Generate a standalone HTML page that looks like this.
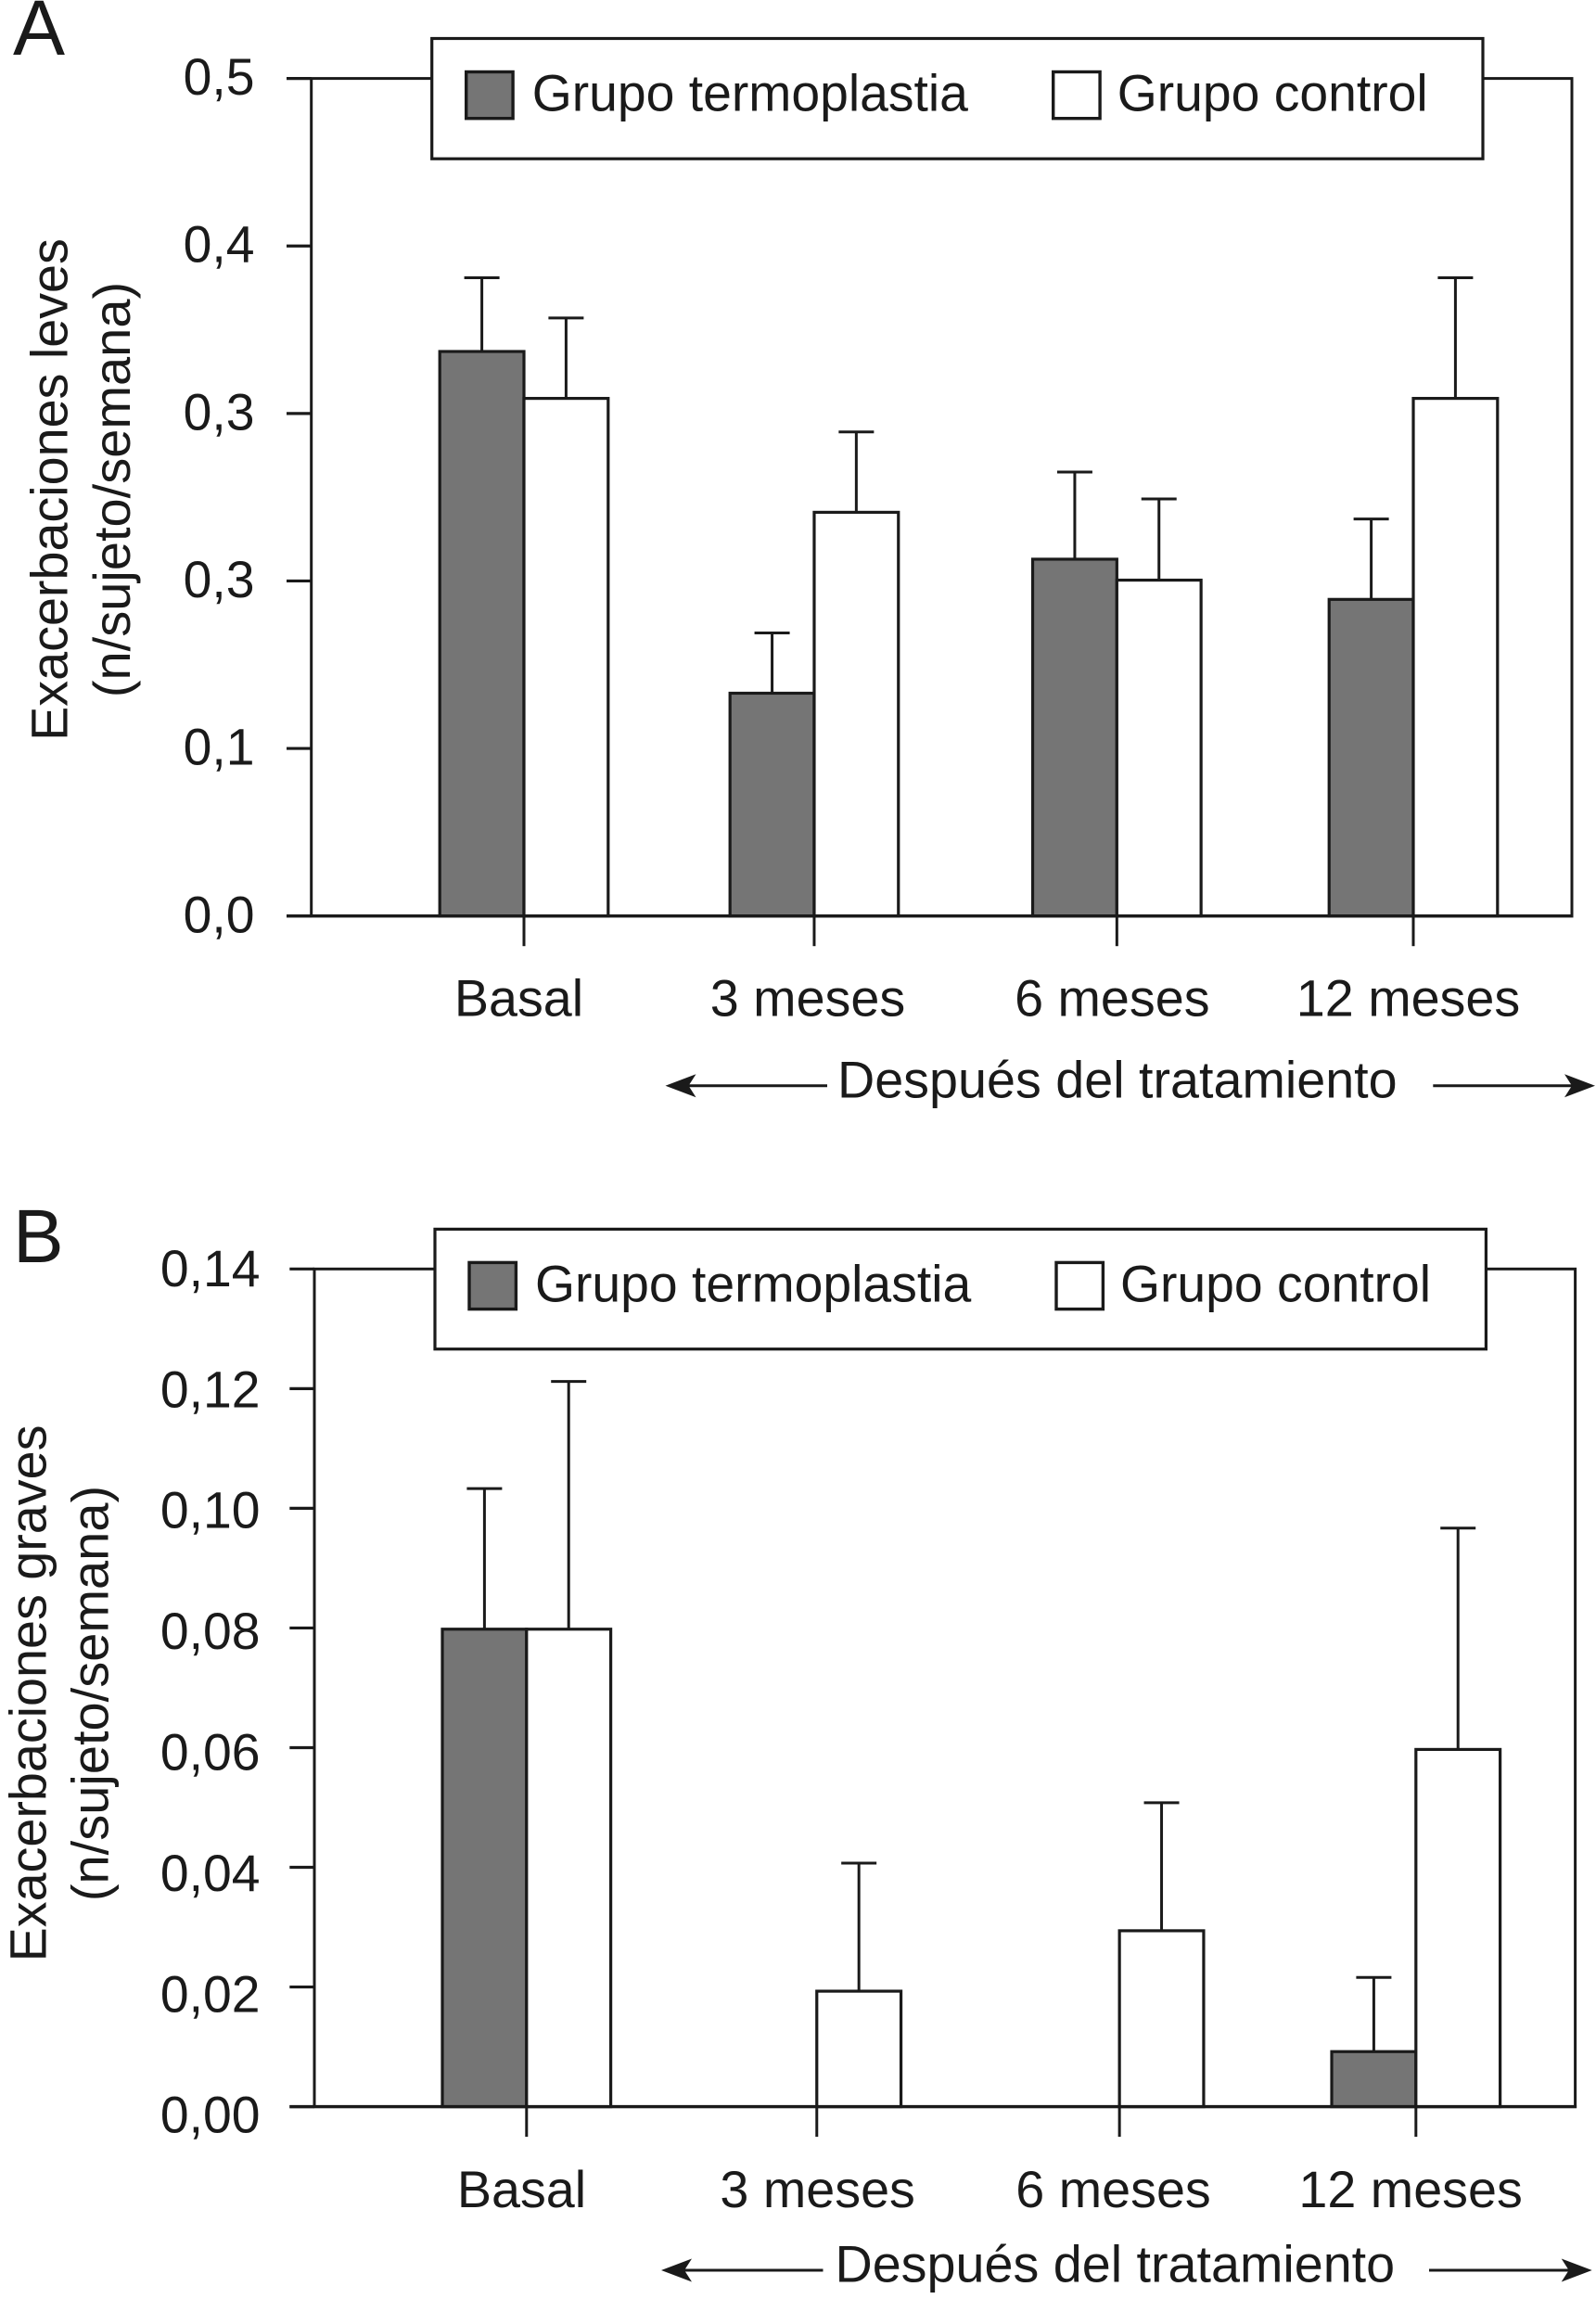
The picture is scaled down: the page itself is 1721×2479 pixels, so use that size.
<!DOCTYPE html>
<html lang="es">
<head>
<meta charset="utf-8">
<title>Exacerbaciones leves y graves</title>
<style>
html,body{margin:0;padding:0;background:#fff;}
svg{display:block;}
text{font-family:"Liberation Sans",Arial,sans-serif;fill:#1a1a1a;font-size:55.7px;}
</style>
</head>
<body>
<svg id="figure" xmlns="http://www.w3.org/2000/svg" width="1721" height="2479" viewBox="0 0 1721 2479">
<rect x="0" y="0" width="1721" height="2479" fill="#fff"/>
<g id="panel-a">
  <text x="14" y="59" style="font-size:84px">A</text>
  <text transform="translate(72.4 528) rotate(-90)" text-anchor="middle">Exacerbaciones leves</text>
  <text transform="translate(140 528) rotate(-90)" text-anchor="middle" style="font-size:56px">(n/sujeto/semana)</text>
</g>
<g id="panel-b">
  <text x="14" y="1361" style="font-size:82px">B</text>
  <text transform="translate(49.4 1826) rotate(-90)" text-anchor="middle">Exacerbaciones graves</text>
  <text transform="translate(116.3 1826) rotate(-90)" text-anchor="middle" style="font-size:56px">(n/sujeto/semana)</text>
</g>
</svg>
<script>
// ---- chart data ----
const categories = ["Basal", "3 meses", "6 meses", "12 meses"];

const ticksA = [0, 0.1, 0.2, 0.3, 0.4, 0.5];
const tickLabelsA = ["0,0", "0,1", "0,3", "0,3", "0,4", "0,5"];
const termoplastiaA = [0.337, 0.133, 0.213, 0.189];
const termoplastiaTopA = [0.381, 0.169, 0.265, 0.237];
const controlA = [0.309, 0.241, 0.2005, 0.309];
const controlTopA = [0.357, 0.289, 0.249, 0.381];

const ticksB = [0, 0.02, 0.04, 0.06, 0.08, 0.10, 0.12, 0.14];
const tickLabelsB = ["0,00", "0,02", "0,04", "0,06", "0,08", "0,10", "0,12", "0,14"];
const termoplastiaB = [0.0798, 0, 0, 0.0092];
const termoplastiaTopB = [0.1033, 0, 0, 0.0216];
const controlB = [0.0798, 0.0193, 0.0294, 0.0597];
const controlTopB = [0.1212, 0.0407, 0.0508, 0.0967];

// ---- drawing ----
const NS = "http://www.w3.org/2000/svg";
const INK = "#1a1a1a";
const DARK = "#757575";
const BAR_W = 90.8;
const CAP_W = 38;

function make(tag, attrs, parent) {
  const el = document.createElementNS(NS, tag);
  for (const k in attrs) el.setAttribute(k, attrs[k]);
  parent.appendChild(el);
  return el;
}

function drawPanel(p) {
  const root = document.getElementById(p.id);
  const yScale = v => p.yBase - (v - 0) * p.yPerUnit;
  const groupX = i => p.firstGroup + i * 319.67 + [0, -6.7, 0, 0][i];

  // frame
  const frame = make("rect", {x: p.axisX, y: yScale(p.yMax), width: p.rightX - p.axisX, height: p.yBase - yScale(p.yMax), fill: "#fff", stroke: INK, "stroke-width": 3}, root);
  
  

  // y ticks and labels
  p.ticks.forEach((t, i) => {
    const tick = make("line", {x1: p.axisX - 26.7, x2: p.axisX, y1: yScale(t), y2: yScale(t), stroke: INK, "stroke-width": 3.2}, root);
    
    
    const label = make("text", {x: p.tickLabelX, y: p.tickLabelBase - i * p.tickLabelStep, "text-anchor": "end", style: "font-size:55.3px"}, root);
    
    
    label.textContent = p.tickLabels[i];
  });

  // bars and error bars
  categories.forEach((c, i) => {
    const gx = groupX(i);
    [[p.thermo, p.thermoTop, gx - BAR_W, DARK], [p.control, p.controlTop, gx, "#fff"]].forEach(s => {
      const value = s[0][i], top = s[1][i], x = s[2], fill = s[3];
      if (value <= 0) return;
      const cx = x + BAR_W / 2;
      const stem = make("line", {x1: cx, x2: cx, y1: yScale(value), y2: yScale(top), stroke: INK, "stroke-width": 3}, root);
      
      
      const cap = make("line", {x1: cx - CAP_W / 2, x2: cx + CAP_W / 2, y1: yScale(top), y2: yScale(top), stroke: INK, "stroke-width": 3}, root);
      
      
      const bar = make("rect", {x: x, y: yScale(value), width: BAR_W, height: p.yBase - yScale(value), fill: fill, stroke: INK, "stroke-width": 3.2}, root);
      
      
    });
    const xt = make("line", {x1: gx, x2: gx, y1: p.yBase, y2: p.yBase + 32.5, stroke: INK, "stroke-width": 3}, root);
    
    
    const xl = make("text", {x: gx + p.labelNudge[i], y: p.yBase + p.labelDrop, "text-anchor": "middle"}, root);
    
    
    xl.textContent = c;
  });

  // baseline
  const base = make("line", {x1: p.axisX - 26.7, x2: p.rightX + 1.5, y1: p.yBase, y2: p.yBase, stroke: INK, "stroke-width": 3.4}, root);
  
  

  // legend
  const box = make("rect", {x: p.legend.x, y: p.legend.y, width: p.legend.w, height: p.legend.h, fill: "#fff", stroke: INK, "stroke-width": 3.2}, root);
  
  
  const sw1 = make("rect", {x: p.legend.x + 37, y: p.legend.y + 36, width: 50.4, height: 50.2, fill: DARK, stroke: INK, "stroke-width": 3.4}, root);
  
  
  const t1 = make("text", {x: p.legend.x + 108, y: p.legend.y + 78, style: "font-size:55.3px"}, root);
  
  
  t1.textContent = "Grupo termoplastia";
  const sw2 = make("rect", {x: p.legend.x + 670, y: p.legend.y + 36, width: 50.4, height: 50.2, fill: "#fff", stroke: INK, "stroke-width": 3.4}, root);
  
  
  const t2 = make("text", {x: p.legend.x + 739, y: p.legend.y + 78, style: "font-size:55.3px"}, root);
  
  
  t2.textContent = "Grupo control";

  // "after treatment" annotation
  const note = make("text", {x: p.note.textX, y: p.note.y + 12.7}, root);
  
  
  note.textContent = "Después del tratamiento";
  const y = p.note.y;
  const la = make("line", {x1: p.note.leftTip + 20, x2: p.note.leftEnd, y1: y, y2: y, stroke: INK, "stroke-width": 3}, root);
  
  
  const lh = make("path", {d: `M${p.note.leftTip} ${y}L${p.note.leftTip + 33} ${y - 12.5}L${p.note.leftTip + 25} ${y}L${p.note.leftTip + 33} ${y + 12.5}Z`, fill: INK}, root);
  
  
  const ra = make("line", {x1: p.note.rightStart, x2: p.note.rightTip - 20, y1: y, y2: y, stroke: INK, "stroke-width": 3}, root);
  
  
  const rh = make("path", {d: `M${p.note.rightTip} ${y}L${p.note.rightTip - 33} ${y - 12.5}L${p.note.rightTip - 25} ${y}L${p.note.rightTip - 33} ${y + 12.5}Z`, fill: INK}, root);
  
  
}

drawPanel({
  id: "panel-a", axisX: 335.7, rightX: 1695, yBase: 987.7, yPerUnit: 1806.2, yMax: 0.5,
  firstGroup: 565, labelDrop: 107.6, labelNudge: [-5.5, -7, -5, -5.5],
  tickLabelX: 274.5, tickLabelBase: 1005.4, tickLabelStep: 180.7,
  ticks: ticksA, tickLabels: tickLabelsA,
  thermo: termoplastiaA, thermoTop: termoplastiaTopA, control: controlA, controlTop: controlTopA,
  legend: {x: 465.7, y: 41.5, w: 1133.3, h: 129.7},
  note: {textX: 903, y: 1170.8, leftTip: 717.5, leftEnd: 892, rightStart: 1545.3, rightTip: 1720}
});

drawPanel({
  id: "panel-b", axisX: 339, rightX: 1698.6, yBase: 2271.6, yPerUnit: 6452, yMax: 0.14,
  firstGroup: 567.8, labelDrop: 108.4, labelNudge: [-5.3, 0.9, -6.6, -5.7],
  tickLabelX: 280.5, tickLabelBase: 2299.7, tickLabelStep: 130.4,
  ticks: ticksB, tickLabels: tickLabelsB,
  thermo: termoplastiaB, thermoTop: termoplastiaTopB, control: controlB, controlTop: controlTopB,
  legend: {x: 469, y: 1325.4, w: 1133.4, h: 129.3},
  note: {textX: 900.5, y: 2448, leftTip: 713, leftEnd: 887.5, rightStart: 1541, rightTip: 1716.7}
});
</script>
</body>
</html>
